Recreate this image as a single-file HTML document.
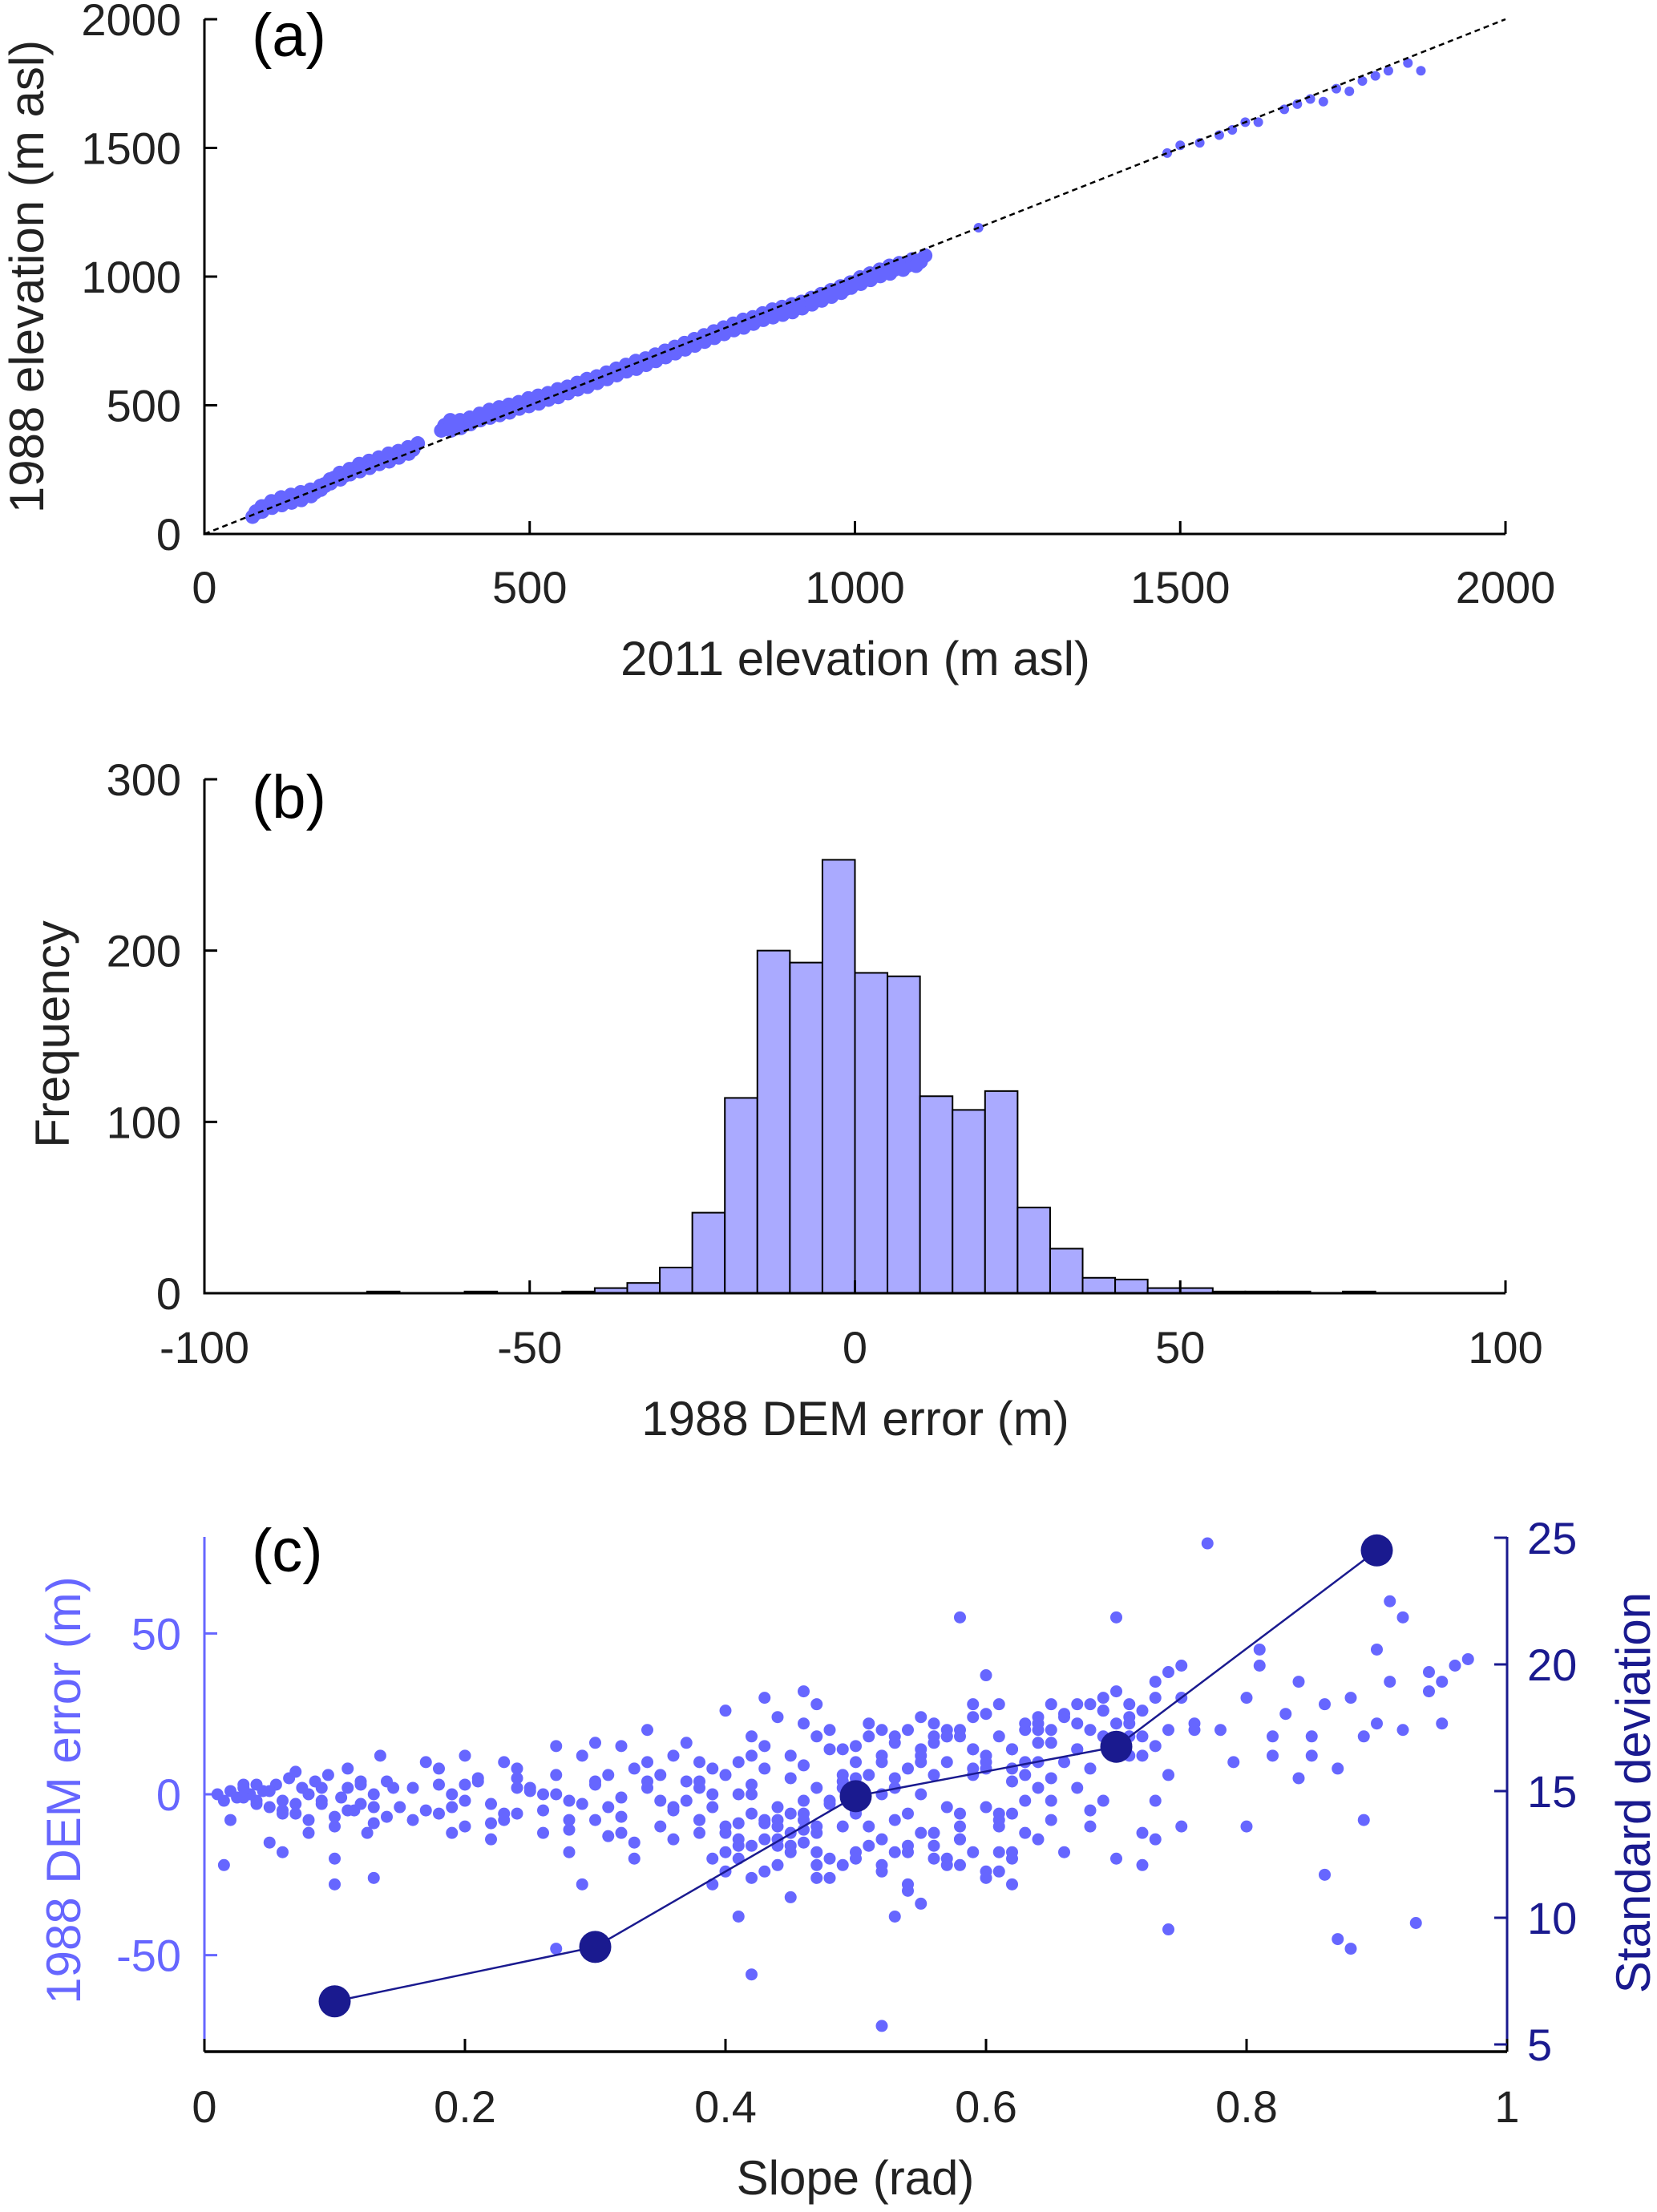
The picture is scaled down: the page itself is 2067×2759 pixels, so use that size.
<!DOCTYPE html>
<html><head><meta charset="utf-8">
<style>
html,body{margin:0;padding:0;background:#fff;}
svg{display:block;font-family:"Liberation Sans",Arial,sans-serif;}
</style></head>
<body>
<svg id="fig" width="2067" height="2759" viewBox="0 0 2067 2759" xmlns="http://www.w3.org/2000/svg"></svg>
<script>
// ---------- Panel (a) data ----------
const elev2011 = [80,95,110,125,140,155,170,185,200,215,230,245,260,275,290,305,320,370,385,400,415,430,445,460,475,490,505,520,535,550,565,580,595,610,625,640,655,670,685,700,715,730,745,760,775,790,805,820,835,850,865,880,895,910,925,940,955,970,985,1000,1015,1030,1045,1060,1080,1100,
  1190,1480,1500,1530,1560,1580,1600,1620,1660,1680,1700,1720,1740,1760,1780,1800,1820,1850,1870];
const elev1988 = [85,105,120,130,140,150,165,190,215,230,250,262,275,290,300,315,330,420,420,430,445,460,470,480,490,505,515,525,540,550,565,580,590,605,620,635,650,660,675,690,705,720,735,750,765,780,795,810,820,835,850,860,870,880,895,910,925,940,955,975,990,1005,1020,1030,1045,1060,
  1190,1480,1510,1520,1550,1570,1600,1600,1650,1670,1690,1680,1730,1720,1760,1780,1800,1830,1800];
const aTicks = [0,500,1000,1500,2000];

// ---------- Panel (b) data ----------
const binStarts = [-75,-60,-45,-40,-35,-30,-25,-20,-15,-10,-5,0,5,10,15,20,25,30,35,40,45,50,55,60,65,75];
const binCounts = [1,1,1,3,6,15,47,114,200,193,253,187,185,115,107,118,50,26,9,8,3,3,1,1,1,1];
const binWidth = 5;
const bXTicks = [-100,-50,0,50,100];
const bYTicks = [0,100,200,300];

// ---------- Panel (c) data ----------
const slopes1 = [.01,.015,.02,.025,.03,.035,.04,.045,.05,.055,.06,.065,.07,.075,.08,.085,.09,.095,.1,.105,.11,.115,.12,.125,.13,.135,.14,.145,.15,.02,.03,.04,.05,.06,.07,.08,.09,.1,.11,.12,.13,.015,.06,.1,.13];
const errors1 = [0,-2,1,-1,2,0,-3,1,-4,3,-2,5,-6,2,-8,4,-3,6,-10,-1,8,-5,3,-12,0,12,-7,2,-4,-8,3,-2,-15,-6,7,-12,2,-20,-5,4,-26,-22,-18,-28,-9];
const slopes2 = [.16,.17,.18,.19,.2,.21,.22,.23,.24,.25,.26,.27,.28,.29,.3,.31,.32,.33,.34,.35,.16,.18,.2,.22,.24,.26,.28,.3,.32,.34,.17,.19,.21,.23,.25,.27,.29,.31,.33,.35,.2,.24,.28,.3,.32,.34,.27,.29,.33,.36];
const errors2 = [2,-5,8,0,-10,5,-3,10,-6,2,-12,6,-2,12,-8,-4,15,-15,4,-10,-8,3,-2,-14,8,-5,-18,3,-7,10,10,-12,4,-6,1,15,-3,6,-20,-2,12,2,-8,16,-12,20,-48,-28,8,-4];
const slopes3 = [.36,.37,.38,.39,.4,.41,.42,.43,.44,.45,.46,.47,.48,.49,.5,.36,.37,.38,.39,.4,.41,.42,.43,.44,.45,.46,.47,.48,.49,.5,.36,.38,.4,.42,.44,.46,.48,.5,.37,.39,.41,.43,.45,.47,.49,.38,.4,.42,.44,.46,.48,.5,.39,.41,.43,.45,.47,.49,.4,.42,.44,.46,.48,.43,.45,.47,.41,.42,.46,.47];
const errors3 = [-5,4,-12,8,-18,0,12,-8,-22,5,-15,18,-3,-10,10,-14,-2,10,-20,6,-9,-16,15,-4,-12,22,2,-20,14,-6,12,-8,-24,3,-16,9,-26,-18,16,0,-20,8,-6,-22,4,2,-12,18,-10,-2,20,2,-28,10,-14,12,-18,6,26,-26,24,-8,14,30,-32,-10,-38,-56,32,28];
const slopes4 = [.5,.51,.52,.53,.54,.55,.56,.57,.58,.59,.6,.61,.62,.63,.64,.65,.5,.51,.52,.53,.54,.55,.56,.57,.58,.59,.6,.61,.62,.63,.64,.65,.5,.51,.52,.53,.54,.55,.56,.57,.58,.59,.6,.61,.62,.63,.64,.65,.5,.52,.54,.56,.58,.6,.62,.64,.51,.53,.55,.57,.59,.61,.63,.65,.52,.54,.56,.58,.6,.62,.53,.55,.57,.59,.61,.52,.58,.62,.6,.64];
const errors4 = [15,-10,20,5,-18,12,22,-4,18,8,25,-6,14,20,2,28,-20,6,-14,18,-6,24,-16,10,-22,14,-4,18,-20,10,24,16,2,22,-24,-8,20,-12,6,20,-10,24,8,-18,14,-2,22,5,-5,10,-28,18,-14,-24,4,16,-16,2,14,-20,6,28,-12,-2,0,-30,16,-6,-26,8,-38,-34,-22,28,-24,-72,55,-28,37,-14];
const slopes5 = [.65,.66,.67,.68,.69,.7,.71,.72,.73,.74,.75,.66,.67,.68,.69,.7,.71,.72,.73,.74,.65,.67,.69,.71,.73,.75,.66,.68,.7,.72,.74,.76,.67,.69,.71,.73,.75,.76,.77,.74,.7,.72,.68,.73];
const errors5 = [20,25,14,28,18,32,22,26,35,20,30,10,22,8,26,16,24,12,30,38,-8,2,-2,12,-14,40,-18,-10,55,-22,-42,20,28,30,18,-2,-10,22,78,6,-20,-12,-5,15];
const slopes6 = [.78,.79,.8,.81,.82,.83,.84,.85,.86,.87,.88,.89,.9,.91,.92,.93,.94,.95,.96,.97,.8,.82,.84,.86,.88,.9,.92,.94,.81,.85,.87,.89,.91,.95];
const errors6 = [20,10,30,45,12,25,35,18,-25,8,30,18,45,60,20,-40,38,35,40,42,-10,18,5,28,-48,22,55,32,40,12,-45,-8,35,22];
const slopes7 = [.03,.05,.07,.09,.11,.13,.04,.06,.08,.1,.12,.14,.18,.2,.22,.24,.26,.28,.3,.32,.34,.19,.23,.27,.31,.35,.38,.4,.42,.44,.46,.48,.39,.41,.43,.45,.47,.49,.38,.42,.46,.5,.44,.52,.54,.56,.58,.6,.62,.64,.53,.55,.57,.59,.61,.63,.51,.55,.59,.63,.52,.56,.6,.64,.54,.58,.62,.66,.68,.7,.72,.67,.69,.71,.45,.47,.43,.41,.49,.57,.61,.53];
const errors7 = [-1,1,-3,-2,2,-4,3,-5,0,-7,-3,4,-6,3,-9,5,0,-11,4,-1,2,-4,-8,0,-13,6,-8,-10,0,-14,-6,-2,-4,-14,-9,-16,-12,2,4,-6,-11,5,-8,12,8,-12,20,10,-6,20,16,0,18,14,-10,6,18,10,-18,22,-22,-20,12,10,-16,-14,-18,24,20,22,18,14,26,28,-18,-26,-24,-16,-22,18,-8,-18];
const binCenters = [0.1,0.3,0.5,0.7,0.9];
const stdDevs = [6.7,8.85,14.8,16.75,24.5];
const cXTicks = [0,0.2,0.4,0.6,0.8,1];
const cXLabels = ['0','0.2','0.4','0.6','0.8','1'];
const cLeftTicks = [-50,0,50];
const cRightTicks = [5,10,15,20,25];

const NS='http://www.w3.org/2000/svg';
const svg=document.getElementById('fig');
function mk(tag,attrs,parent){const e=document.createElementNS(NS,tag);for(const k in attrs)e.setAttribute(k,attrs[k]);(parent||svg).appendChild(e);return e;}
function txt(s,attrs,parent){const e=mk('text',attrs,parent);e.textContent=s;return e;}
function lin(d0,d1,r0,r1){return v=>r0+(v-d0)/(d1-d0)*(r1-r0);}
const PT='#6666ff', TICKF=56, LABF=60;

// ================= Panel (a) =================
const ga=mk('g',{});


const ax=lin(0,2000,255,1878), ay=lin(0,2000,666,24);
const ptsA=mk('g',{fill:PT},ga);


for(let i=0;i<Math.min(elev2011.length,elev1988.length);i++){
  const c=mk('circle',{cx:ax(elev2011[i]),cy:ay(elev1988[i]),r:i<66?10:6},ptsA);
  
  
  if(i<66){
    mk('circle',{cx:ax(elev2011[i]+8),cy:ay(elev1988[i]+22),r:9},ptsA);
    mk('circle',{cx:ax(elev2011[i]-6),cy:ay(elev1988[i]-18),r:9},ptsA);
  }
}
const oneToOne=mk('line',{x1:ax(0),y1:ay(0),x2:ax(2000),y2:ay(2000),stroke:'#000','stroke-width':2.5,'stroke-dasharray':'7 5'},ga);


mk('path',{d:`M${ax(0)} ${ay(2000)} V${ay(0)} H${ax(2000)}`,fill:'none',stroke:'#000','stroke-width':3},ga);
aTicks.forEach(t=>{
  mk('line',{x1:ax(t),y1:ay(0),x2:ax(t),y2:ay(0)-16,stroke:'#000','stroke-width':3},ga);
  mk('line',{x1:ax(0),y1:ay(t),x2:ax(0)+16,y2:ay(t),stroke:'#000','stroke-width':3},ga);
  const xl=txt(String(t),{x:ax(t),y:752,'font-size':TICKF,'text-anchor':'middle',fill:'#222'},ga);
  
  
  const yl=txt(String(t),{x:226,y:ay(t)+20,'font-size':TICKF,'text-anchor':'end',fill:'#222'},ga);
  
  
});
const axl=txt('2011 elevation (m asl)',{x:1067,y:842,'font-size':LABF,'text-anchor':'middle',fill:'#222'},ga);


const ayl=txt('1988 elevation (m asl)',{x:0,y:0,'font-size':LABF,'text-anchor':'middle',fill:'#222',transform:'translate(54 345) rotate(-90)'},ga);


const pa=txt('(a)',{x:314,y:70,'font-size':76,fill:'#000'},ga);



// ================= Panel (b) =================
const gb=mk('g',{});


const bx=lin(-100,100,255,1878), by=lin(0,300,1613,972);
binStarts.forEach((s,i)=>{
  const r=mk('rect',{x:bx(s),y:by(binCounts[i]),width:bx(s+binWidth)-bx(s),height:by(0)-by(binCounts[i]),fill:'#aaaaff',stroke:'#000','stroke-width':2},gb);
  
  
});
mk('path',{d:`M${bx(-100)} ${by(300)} V${by(0)} H${bx(100)}`,fill:'none',stroke:'#000','stroke-width':3},gb);
bXTicks.forEach(t=>{
  mk('line',{x1:bx(t),y1:by(0),x2:bx(t),y2:by(0)-16,stroke:'#000','stroke-width':3},gb);
  const l=txt(String(t),{x:bx(t),y:1700,'font-size':TICKF,'text-anchor':'middle',fill:'#222'},gb);
  
  
});
bYTicks.forEach(t=>{
  mk('line',{x1:bx(-100),y1:by(t),x2:bx(-100)+16,y2:by(t),stroke:'#000','stroke-width':3},gb);
  const l=txt(String(t),{x:226,y:by(t)+20,'font-size':TICKF,'text-anchor':'end',fill:'#222'},gb);
  
  
});
const bxl=txt('1988 DEM error (m)',{x:1067,y:1790,'font-size':LABF,'text-anchor':'middle',fill:'#222'},gb);


const byl=txt('Frequency',{x:0,y:0,'font-size':LABF,'text-anchor':'middle',fill:'#222',transform:'translate(86 1290) rotate(-90)'},gb);


const pb=txt('(b)',{x:314,y:1020,'font-size':76,fill:'#000'},gb);



// ================= Panel (c) =================
const gc=mk('g',{});


const cx=lin(0,1,255,1880), cyL=lin(-80,80,2559,1917), cyR=lin(5,25,2550,1918);
const ptsC=mk('g',{fill:PT},gc);


[[slopes1,errors1],[slopes2,errors2],[slopes3,errors3],[slopes4,errors4],[slopes5,errors5],[slopes6,errors6],[slopes7,errors7]].forEach(([S,E])=>{
  for(let i=0;i<Math.min(S.length,E.length);i++){
    const c=mk('circle',{cx:cx(S[i]),cy:cyL(E[i]),r:7.5},ptsC);
    
    
  }
});
const sdLine=mk('polyline',{points:binCenters.map((s,i)=>cx(s)+','+cyR(stdDevs[i])).join(' '),fill:'none',stroke:'#1a1a8f','stroke-width':2.5},gc);


binCenters.forEach((s,i)=>{
  const c=mk('circle',{cx:cx(s),cy:cyR(stdDevs[i]),r:20,fill:'#1a1a8f'},gc);
  
  
});
mk('line',{x1:cx(0),y1:cyL(80),x2:cx(0),y2:cyL(-80),stroke:PT,'stroke-width':3},gc);
mk('line',{x1:cx(0),y1:cyL(-80),x2:cx(1),y2:cyL(-80),stroke:'#000','stroke-width':3.5},gc);
mk('line',{x1:cx(1),y1:cyL(80),x2:cx(1),y2:cyL(-80),stroke:'#1a1a8f','stroke-width':3},gc);
cXTicks.forEach((t,i)=>{
  mk('line',{x1:cx(t),y1:cyL(-80),x2:cx(t),y2:cyL(-80)-16,stroke:'#000','stroke-width':3},gc);
  const l=txt(cXLabels[i],{x:cx(t),y:2647,'font-size':TICKF,'text-anchor':'middle',fill:'#222'},gc);
  
  
});
cLeftTicks.forEach(t=>{
  mk('line',{x1:cx(0),y1:cyL(t),x2:cx(0)+16,y2:cyL(t),stroke:PT,'stroke-width':3},gc);
  const l=txt(String(t),{x:226,y:cyL(t)+20,'font-size':TICKF,'text-anchor':'end',fill:PT},gc);
  
  
});
cRightTicks.forEach(t=>{
  mk('line',{x1:cx(1),y1:cyR(t),x2:cx(1)-16,y2:cyR(t),stroke:'#1a1a8f','stroke-width':3},gc);
  const l=txt(String(t),{x:1905,y:cyR(t)+20,'font-size':TICKF,'text-anchor':'start',fill:'#1a1a8f'},gc);
  
  
});
const cxl=txt('Slope (rad)',{x:1067,y:2737,'font-size':LABF,'text-anchor':'middle',fill:'#222'},gc);


const cyl=txt('1988 DEM error (m)',{x:0,y:0,'font-size':LABF,'text-anchor':'middle',fill:PT,transform:'translate(100 2233) rotate(-90)'},gc);


const cyr=txt('Standard deviation',{x:0,y:0,'font-size':LABF,'text-anchor':'middle',fill:'#1a1a8f',transform:'translate(2058 2236) rotate(-90)'},gc);


const pc=txt('(c)',{x:314,y:1960,'font-size':76,fill:'#000'},gc);


</script>
</body></html>
